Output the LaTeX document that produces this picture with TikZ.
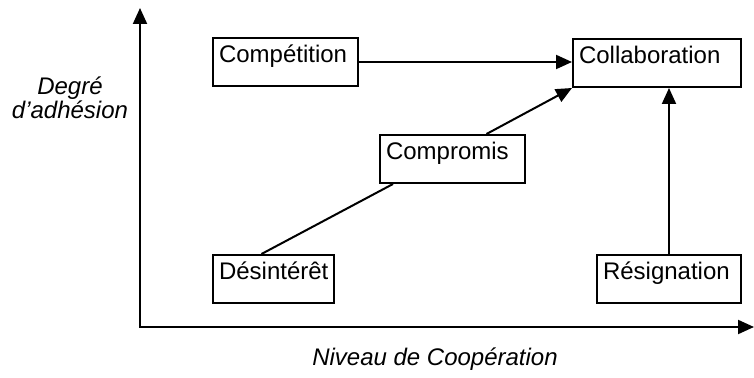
\documentclass[tikz,border=0pt]{standalone}
\usepackage{fontspec}
\setmainfont{Liberation Sans}
\usetikzlibrary{arrows.meta}

\begin{document}
\begin{tikzpicture}[x=0.5pt, y=-0.5pt, >={Triangle[length=8pt,width=7pt]}]

\tikzset{every node/.style={font=\fontsize{12}{12}\selectfont}}
\tikzset{etat/.style={rectangle, draw, line width=1pt, anchor=north west, align=left, inner xsep=3pt, inner ysep=0pt, text height=12.5pt, text depth=11.5pt}}
\tikzset{axe/.style={line width=1pt}}

\useasboundingbox (0,0) rectangle (754,378);

% Axes
\coordinate (origine) at (140,327);
\coordinate (haut) at (140,8);
\coordinate (droite) at (754,327);
\draw[axe, <->] (haut) -- (origine) -- (droite);

\node[align=center, font=\itshape\fontsize{12}{12}\selectfont] (adhesion) at (70,98) {Degré\\d’adhésion};
\node[font=\itshape\fontsize{12}{12}\selectfont] (cooperation) at (435,359) {Niveau de Coopération};

% Nodos
\node[etat, text width=66.5pt] (competition) at (212,37) {Compétition};
\node[etat, text width=78pt] (collaboration) at (572,38) {Collaboration};
\node[etat, text width=66.5pt] (compromis) at (379,134) {Compromis};
\node[etat, text width=54.5pt] (desinteret) at (212,254) {Désintérêt};
\node[etat, text width=66pt] (resignation) at (596,254) {Résignation};

% Lines
\draw[axe, ->] (competition.east) -- (competition.east -| collaboration.west);
\draw[axe, ->] ([xshift=17pt]compromis.north) -- (collaboration.south west);
\draw[axe] ([xshift=-6pt]desinteret.north) -- ([xshift=7pt]compromis.south west);
\draw[axe, ->] (resignation.north) -- (resignation.north |- collaboration.south);

\end{tikzpicture}
\end{document}
